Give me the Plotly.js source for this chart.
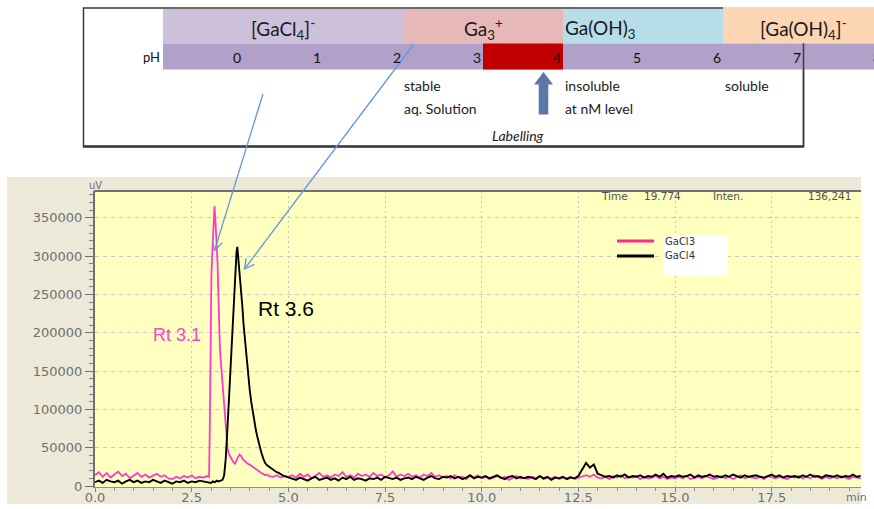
<!DOCTYPE html>
<html>
<head>
<meta charset="utf-8">
<script src="https://cdn.plot.ly/plotly-3.0.1.min.js"></script>
<style>html,body{margin:0;padding:0;background:#fff;}#chart{width:874px;height:509px;}</style>
</head>
<body>
<div id="chart"></div>
<script>
// ---- data (values in thousands of uV) ----
// baseline before the peaks: t = 0.0 .. 2.9 min, every 0.1 min
const pinkA  = [14,18,12,17,11,15,19,13,16,10,14,17,12,15,11,13,16,12,14,10,9,12,10,13,11,14,10,12,11,13];
const blackA = [5,7,4,8,6,5,7,3,6,8,5,7,4,6,5,8,6,4,7,5,3,6,5,7,4,6,5,7,6,5];
// peak region (GaCl3, pink)
const pinkPeakT = [2.95,2.97,2.99,3.01,3.03,3.05,3.07,3.09,3.11,3.13,3.15,3.17,3.19,3.21,3.23,3.25,3.28,3.31,3.34,3.37,3.40,3.43,3.46,3.50,3.54,3.58,3.62,3.66,3.70,3.74,3.78,3.82,3.86,3.90,3.95,4.00,4.05,4.10,4.15,4.20,4.25,4.30,4.35,4.40,4.45,4.50,4.60,4.70,4.80,4.90,5.00];
const pinkPeakV = [12,80,190,275,300,320,345,365,350,330,318,290,250,205,180,165,145,128,105,85,65,48,42,38,35,31,29,34,38,41,39,35,33,31,29,28,26,25,23,21,19,17,16,14,15,13,12,14,11,13,12];
// peak region (GaCl4, black)
const blackPeakT = [2.95,3.00,3.05,3.10,3.15,3.20,3.25,3.30,3.34,3.38,3.42,3.45,3.48,3.51,3.54,3.57,3.60,3.63,3.66,3.68,3.70,3.72,3.75,3.78,3.81,3.84,3.87,3.90,3.93,3.96,4.00,4.04,4.08,4.12,4.16,4.20,4.25,4.30,4.35,4.40,4.45,4.50,4.55,4.60,4.65,4.70,4.75,4.80,4.85,4.90,4.95,5.00];
const blackPeakV = [5,4,6,5,7,6,7,8,14,35,70,100,130,160,195,230,255,280,305,312,300,290,277,260,235,212,195,178,163,145,126,110,96,83,73,64,53,44,36,30,27,25,23,21,19,18,17,15,14,13,12,11];
// baseline after the peaks: t = 5.1 .. 19.8 min, every 0.1 min
const pinkC = [
 14,11,16,12,15,10,13,17,12,14, 11,15,13,18,12,14,11,16,13,15, 12,17,13,15,11,14,19,12,15,13,
 16,12,14,11,15,13,17,12,14,11, 13,10,14,11,12,9,13,11,14,10, 12,9,11,13,10,12,8,11,13,10,
 11,9,12,10,13,9,11,10,12,9, 11,10,12,9,11,13,14,12,15,11, 10,12,9,13,11,14,10,12,11,13,
 9,12,10,11,13,10,12,9,11,10, 12,10,13,9,11,12,10,13,11,9, 11,13,10,12,9,11,14,10,12,11,
 10,12,9,13,11,10,12,11,9,12, 11,13,10,12,10,14,11,9,12,10, 12,10,13,11,9,12,11,10];
const blackC = [
 10,8,11,9,7,10,12,8,9,11, 8,10,7,11,9,12,8,10,9,7, 10,9,11,8,12,10,9,11,8,10,
 11,9,12,10,8,11,13,10,9,12, 11,13,10,12,9,11,14,10,12,11, 13,10,12,14,11,9,12,13,10,12,
 10,12,11,9,13,10,12,8,11,10, 12,9,11,10,13,22,30,24,28,16, 14,12,13,11,14,12,15,11,13,12,
 14,11,13,12,15,12,16,11,13,12, 14,12,13,15,11,14,12,13,15,12, 13,11,14,12,15,13,11,14,12,13,
 14,12,11,13,15,12,14,11,13,12, 13,11,14,12,15,12,13,11,14,13, 12,14,11,13,12,15,12,13];
const seriesNames = ['GaCl3','GaCl4'];
const pHTicks = ['0','1','2','3','4','5','6','7','8'];

// ---- build traces ----
const seq = (s, d, n) => Array.from({length:n}, (_, i) => +(s + i*d).toFixed(2));
const pinkX  = [...seq(0,0.1,pinkA.length), ...pinkPeakT, ...seq(5.1,0.1,pinkC.length)];
const pinkY  = [...pinkA, ...pinkPeakV, ...pinkC].map(v => v*1000);
const blackX = [...seq(0,0.1,blackA.length), ...blackPeakT, ...seq(5.1,0.1,blackC.length)];
const blackY = [...blackA, ...blackPeakV, ...blackC].map(v => v*1000);

const traces = [
  {x:pinkX, y:pinkY, name:seriesNames[0], type:'scatter', mode:'lines', line:{color:'#ff38d0', width:1.8}, hoverinfo:'skip'},
  {x:blackX, y:blackY, name:seriesNames[1], type:'scatter', mode:'lines', line:{color:'#000000', width:1.9}, hoverinfo:'skip'}
];

// ---- pixel -> paper helpers for decorations ----
const L=95, T=191, W=766, H=296;
const PX = p => (p - L)/W;
const PY = p => (T + H - p)/H;
const rect = (x0,y0,x1,y1,fill,line) => ({type:'rect', xref:'paper', yref:'paper', layer:'above',
  x0:PX(x0), x1:PX(x1), y0:PY(y1), y1:PY(y0), fillcolor:fill, line: line || {width:0}});
const seg = (x0,y0,x1,y1,color,width) => ({type:'line', xref:'paper', yref:'paper', layer:'above',
  x0:PX(x0), y0:PY(y0), x1:PX(x1), y1:PY(y1), line:{color:color, width:width}});
const path = (pts, close, fill, line) => ({type:'path', xref:'paper', yref:'paper', layer:'above',
  path:'M ' + pts.map(p => PX(p[0]) + ',' + PY(p[1])).join(' L ') + (close ? ' Z' : ''),
  fillcolor: fill || 'rgba(0,0,0,0)', line: line || {width:0}});
function pointer(tx, ty, hx, hy, color) {
  const dx = hx - tx, dy = hy - ty, len = Math.hypot(dx, dy);
  const bx = -dx/len, by = -dy/len, a = 28*Math.PI/180, r = 11;
  const p1 = [hx + r*(bx*Math.cos(a) - by*Math.sin(a)), hy + r*(bx*Math.sin(a) + by*Math.cos(a))];
  const p2 = [hx + r*(bx*Math.cos(a) + by*Math.sin(a)), hy + r*(-bx*Math.sin(a) + by*Math.cos(a))];
  return [seg(tx,ty,hx,hy,color,1.3), path([p1,[hx,hy],p2], false, null, {color:color, width:1.3})];
}

const shapes = [
  {type:'rect', xref:'paper', yref:'paper', layer:'below', x0:PX(7), x1:PX(861), y0:PY(504), y1:PY(177), fillcolor:'#ece9d8', line:{width:0}},
  {type:'rect', xref:'paper', yref:'paper', layer:'below', x0:0, x1:1, y0:0, y1:1, fillcolor:'#ffffc0', line:{width:0}},
  // plot top border
  seg(94, 191, 861, 191, '#707070', 2),
  // top labelling box
  rect(83.5, 8, 803.5, 146.5, 'rgba(0,0,0,0)', {color:'#3a3a3a', width:1.5}),
  seg(83, 146.5, 804, 146.5, '#3a3a3a', 2.5),
  rect(163, 9, 403, 43.5, '#ccc0da'),
  rect(403, 9, 563, 43.5, '#e6b8b7'),
  rect(563, 9, 723, 43.5, '#b7dee8'),
  rect(723, 7, 874, 43.5, '#fcd5b4'),
  rect(163, 43.5, 874, 69.5, '#b1a0c7'),
  rect(483, 43.5, 563, 69.5, '#c00000'),
  seg(803.5, 43.5, 803.5, 147, '#3a3a3a', 1.5),
  // up arrow
  path([[543.5,72],[553,84.5],[548.3,84.5],[548.3,114.5],[538.7,114.5],[538.7,84.5],[534,84.5]], true, '#5a78a8', {width:0}),
  // pointers
  ...pointer(263, 94, 214.5, 250.5, '#6496dc'),
  ...pointer(413.5, 44.5, 244.5, 269, '#6496dc'),
  // legend
  rect(663, 235, 728, 275, '#ffffff'),
  seg(617, 241, 654, 241, '#ff2a88', 3),
  seg(617, 256, 654, 256, '#000000', 3)
];

const ann = (text, x, y, xa, size, color, family, extra) => Object.assign({
  text:text, xref:'paper', yref:'paper', x:PX(x), y:PY(y), xanchor:xa, yanchor:'middle',
  showarrow:false, font:{family:family, size:size, color:color}, borderpad:0}, extra || {});
const LATO = 'Lato, Carlito, sans-serif', DJ = 'DejaVu Sans, Verdana, sans-serif', AR = 'Liberation Sans, Arial, sans-serif';

const annotations = [
  ann('[GaCl<sub>4</sub>]<sup>-</sup>', 283, 29, 'center', 19, '#1a1a1a', LATO),
  ann('Ga<sub>3</sub><sup>+</sup>', 483, 29, 'center', 19, '#1a1a1a', LATO),
  ann('Ga(OH)<sub>3</sub>', 564, 29, 'left', 19, '#1a1a1a', LATO),
  ann('[Ga(OH)<sub>4</sub>]<sup>-</sup>', 803, 29, 'center', 19, '#1a1a1a', LATO),
  ann('pH', 161, 57, 'right', 13, '#111', LATO),
  ...pHTicks.map((t, i) => ann(t, 243 + 80*i - 1.5, 57, 'right', 14, '#111', LATO)),
  ann('stable', 403, 85, 'left', 14, '#1a1a1a', LATO),
  ann('aq. Solution', 403, 108.5, 'left', 14, '#1a1a1a', LATO),
  ann('insoluble', 563.5, 85, 'left', 14, '#1a1a1a', LATO),
  ann('at nM level', 563.5, 108.5, 'left', 14, '#1a1a1a', LATO),
  ann('soluble', 723.5, 85, 'left', 14, '#1a1a1a', LATO),
  ann('<i>Labelling</i>', 518, 135.5, 'center', 14, '#1a1a1a', LATO),
  // chart texts
  ann('uV', 95, 185, 'center', 10, '#707070', DJ),
  ann('min', 845, 497.5, 'left', 11, '#707070', DJ),
  ann('Time', 600, 195.5, 'left', 10.5, '#505050', DJ),
  ann('19.774', 643, 195.5, 'left', 10.5, '#505050', DJ),
  ann('Inten.', 712, 195.5, 'left', 10.5, '#505050', DJ),
  ann('136,241', 807, 195.5, 'left', 10.5, '#505050', DJ),
  ann(seriesNames[0], 664, 241, 'left', 10, '#333', DJ),
  ann(seriesNames[1], 664, 255.5, 'left', 10, '#333', DJ),
  ann('Rt 3.1', 177, 335, 'center', 18, '#ff44c4', AR),
  ann('Rt 3.6', 286, 308, 'center', 21, '#000000', AR)
];

const layout = {
  width:874, height:509, margin:{l:L, r:874-L-W, t:T, b:509-T-H, pad:0},
  paper_bgcolor:'#ffffff', plot_bgcolor:'#ffffc0', showlegend:false,
  xaxis:{range:[0,19.81], tick0:0, dtick:2.5, tickformat:'.1f', ticks:'outside', ticklen:4, tickcolor:'#808080',
    ticklabelstandoff:-6,
    showline:true, linecolor:'#909090', linewidth:1, showgrid:true, gridcolor:'#c4c4c4', griddash:'2px,3px', gridwidth:1,
    zeroline:false, tickfont:{family:DJ, size:13, color:'#707070'},
    minor:{dtick:0.5, ticklen:3, tickcolor:'#909090', showgrid:false}, fixedrange:true},
  yaxis:{range:[-1300,384800], tick0:0, dtick:50000, tickformat:'d', ticks:'outside', ticklen:8, tickcolor:'#707070',
    showline:true, linecolor:'#707070', linewidth:2, showgrid:true, gridcolor:'#c8c8c8', griddash:'4px,4px', gridwidth:1,
    zeroline:false, tickfont:{family:DJ, size:13, color:'#707070'},
    minor:{dtick:10000, ticklen:4, tickcolor:'#808080', showgrid:false}, fixedrange:true},
  shapes:shapes, annotations:annotations
};

Plotly.newPlot('chart', traces, layout, {displayModeBar:false, staticPlot:true});
</script>
</body>
</html>
